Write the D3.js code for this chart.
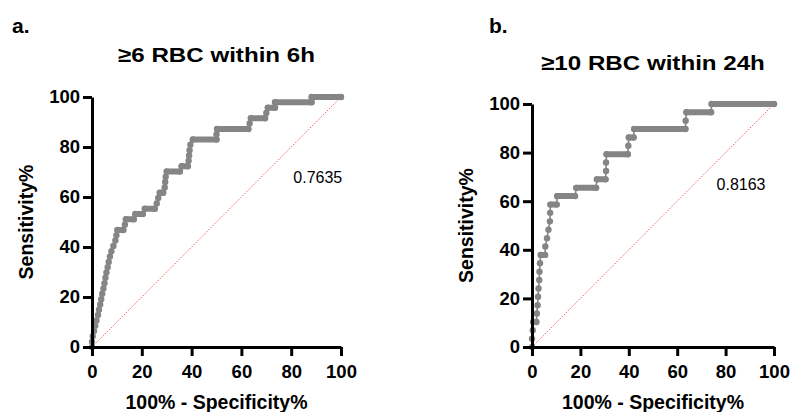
<!DOCTYPE html>
<html>
<head>
<meta charset="utf-8">
<script src="https://cdn.jsdelivr.net/npm/d3@7"></script>
<style>
	html, body { margin: 0; padding: 0; background: #fff; }
	svg { display: block; font-family: "Liberation Sans", Arial, sans-serif; }
</style>
</head>
<body>
<div id="chart"></div>
<script>
// tick labels shared by both panels
const xTicks = [0, 20, 40, 60, 80, 100];
const yTicks = [0, 20, 40, 60, 80, 100];

// panel a: >=6 RBC within 6h  [100% - specificity, sensitivity]
const rocA = [
	[0,0],[0,2.1],[0.3,4.3],[0.8,6.4],[1.3,8.5],[1.8,10.6],[2.4,12.8],[2.8,14.9],[3.3,17],
	[3.7,19.1],[4.1,21.3],[4.6,23.4],[5,25.5],[5.4,27.7],[5.8,29.8],[6.3,31.9],[6.7,34],
	[7.2,36.2],[7.8,38.3],[8.6,40.4],[9.4,42.6],[9.8,44.7],[10.2,46.8],[12.6,46.8],
	[13.2,48.9],[13.6,51.1],[16.8,51.1],[17.4,53.2],[20.4,53.2],[21.2,55.3],[25.2,55.3],
	[26,57.4],[26.6,59.6],[27.2,61.7],[28.6,61.7],[29.2,63.8],[29.4,66],[29.6,68.1],
	[30,70.2],[35.3,70.2],[36,72.3],[38.5,72.3],[38.8,74.5],[39,76.6],[39.2,78.7],
	[39.5,80.9],[40.5,83],[50,83],[50,85.1],[50.2,87.2],[62.8,87.2],[63.3,89.4],
	[63.8,91.5],[69.5,91.5],[70,93.6],[70.6,95.7],[73.5,95.7],[73.5,97.9],[88.2,97.9],
	[88.2,100],[100,100]
];

// panel b: >=10 RBC within 24h
const rocB = [
	[0,0],[0,3.4],[0.3,6.9],[0.5,10.3],[1.8,10.3],[2,13.8],[2.3,17.2],[2.5,20.7],
	[2.7,24.1],[3,27.6],[3.1,31],[3.3,34.5],[3.6,37.9],[5.4,37.9],[5.5,41.4],[6.2,44.8],
	[6.8,48.3],[7.4,51.7],[7.5,55.2],[7.6,58.6],[10.2,58.6],[10.4,62.1],[17.8,62.1],
	[18.3,65.5],[26.5,65.5],[26.8,69],[30.4,69],[30.6,72.4],[30.6,75.9],[30.8,79.3],
	[39.6,79.3],[39.8,82.8],[40,86.2],[42,86.2],[42.2,89.7],[63.4,89.7],[63.5,93.1],
	[63.8,96.6],[74,96.6],[74.2,100],[100,100]
];

const panels = [
	{ letter: 'a.', title: '≥6 RBC within 6h', auc: '0.7635', aucPos: [100.5, 65.5],
	  data: rocA, left: 92, right: 341, top: 97, bottom: 347, letterX: 12, titleY: 62 },
	{ letter: 'b.', title: '≥10 RBC within 24h', auc: '0.8163', aucPos: [96.5, 64.5],
	  data: rocB, left: 532, right: 774, top: 104, bottom: 347, letterX: 489, titleY: 70 }
];

const width = 790;
const height = 412;
const curveColour = '#858585';

const svg = d3.select('#chart')
	.append('svg')
	.attr('width', width)
	.attr('height', height);

panels.forEach(p => drawPanel(p));

function drawPanel(p) {
	const x = d3.scaleLinear().domain([0, 100]).range([p.left, p.right]);
	const y = d3.scaleLinear().domain([0, 100]).range([p.bottom, p.top]);
	const g = svg.append('g');

	// panel letter + title (the source figure is a bit stretched sideways)
	g.append('text')
		.attr('x', p.letterX)
		.attr('y', 33)
		.attr('font-size', 21)
		.attr('font-weight', 'bold')
		.text(p.letter);

	g.append('text')
		.attr('transform', `translate(${(p.left + p.right) / 2},${p.titleY}) scale(1.15,1)`)
		.attr('text-anchor', 'middle')
		.attr('font-size', 21)
		.attr('font-weight', 'bold')
		.text(p.title);

	// chance line
	g.append('line')
		.attr('x1', x(0)).attr('y1', y(0))
		.attr('x2', x(100)).attr('y2', y(100))
		.attr('stroke', '#ff5a5a')
		.attr('stroke-width', 1)
		.attr('stroke-dasharray', '1.5,1.5');

	// roc curve: thin joins, thick runs where the points pile up horizontally
	const line = d3.line().x(d => x(d[0])).y(d => y(d[1]));
	g.append('path')
		.datum(p.data)
		.attr('fill', 'none')
		.attr('stroke', curveColour)
		.attr('stroke-width', 1.6)
		.attr('d', line);

	const runs = d3.pairs(p.data).filter(([a, b]) => a[1] === b[1] && b[0] > a[0]);
	g.append('g')
		.selectAll('line')
		.data(runs)
		.join('line')
			.attr('x1', d => x(d[0][0]))
			.attr('x2', d => x(d[1][0]))
			.attr('y1', d => y(d[0][1]))
			.attr('y2', d => y(d[1][1]))
			.attr('stroke', curveColour)
			.attr('stroke-width', 6)
			.attr('stroke-linecap', 'round');

	g.append('g')
		.selectAll('circle')
		.data(p.data)
		.join('circle')
			.attr('cx', d => x(d[0]))
			.attr('cy', d => y(d[1]))
			.attr('r', 3.2)
			.attr('fill', curveColour);

	// axes
	const xAxis = g.append('g')
		.attr('transform', `translate(0,${p.bottom})`)
		.call(d3.axisBottom(x).tickValues(xTicks).tickSize(9).tickPadding(9).tickSizeOuter(0));
	const yAxis = g.append('g')
		.attr('transform', `translate(${p.left},0)`)
		.call(d3.axisLeft(y).tickValues(yTicks).tickSize(9).tickPadding(3).tickSizeOuter(0));

	[xAxis, yAxis].forEach(ax => {
		ax.select('.domain').attr('stroke', '#000').attr('stroke-width', 3);
		ax.selectAll('.tick line').attr('stroke', '#000').attr('stroke-width', 3);
		ax.selectAll('.tick text')
			.attr('fill', '#000')
			.attr('font-size', 18.5)
			.attr('font-weight', 'bold')
			.attr('font-family', '"Liberation Sans", Arial, sans-serif');
	});

	// axis titles
	g.append('text')
		.attr('x', (p.left + p.right) / 2)
		.attr('y', p.bottom + 62)
		.attr('text-anchor', 'middle')
		.attr('font-size', 19.5)
		.attr('font-weight', 'bold')
		.text('100% - Specificity%');

	g.append('text')
		.attr('transform', `translate(${p.left - 59},${(p.top + p.bottom) / 2}) rotate(-90)`)
		.attr('text-anchor', 'middle')
		.attr('font-size', 19.5)
		.attr('font-weight', 'bold')
		.text('Sensitivity%');

	// AUC
	g.append('text')
		.attr('x', x(p.aucPos[0]))
		.attr('y', y(p.aucPos[1]))
		.attr('text-anchor', 'end')
		.attr('font-size', 16)
		.text(p.auc);
}
</script>
</body>
</html>
